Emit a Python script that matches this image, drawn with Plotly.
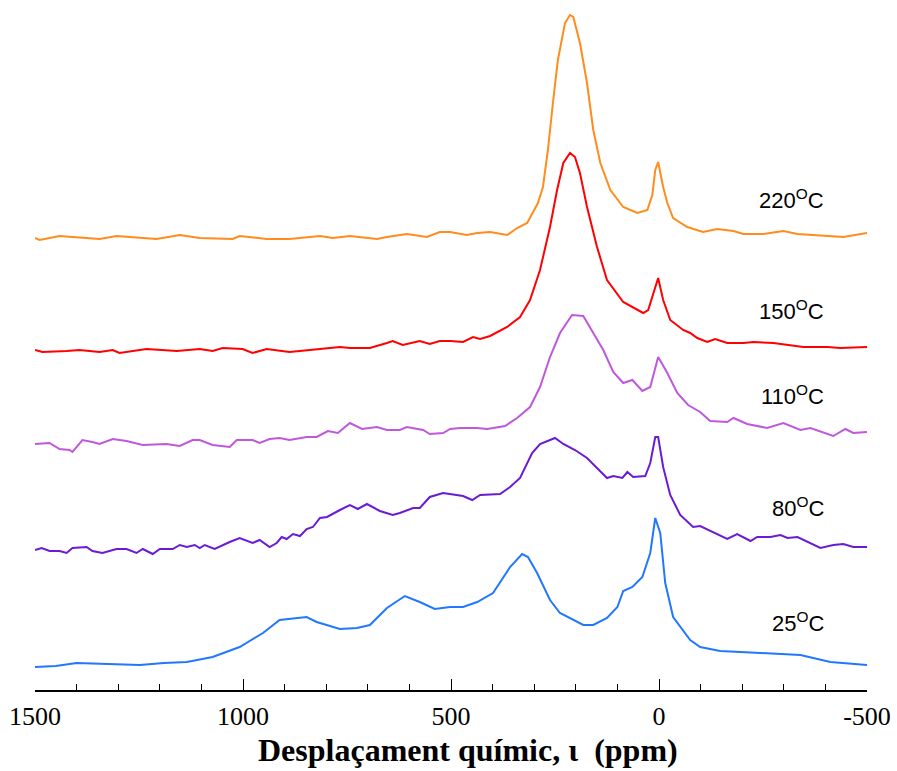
import plotly.graph_objects as go

# ---- data: chemical shift (ppm) and intensity above each spectrum's baseline ----
ppm_220 = [1500, 1489, 1441, 1345, 1304, 1208, 1152, 1104, 1025, 1008, 943, 888, 815, 784, 743, 678, 654, 606,
           558, 527, 502, 462, 437, 406, 365, 341, 317, 291, 279, 267, 255, 243, 226, 214, 206, 190, 173, 158,
           141, 117, 86, 52, 28, 16, 9, 2, -10, -20, -34, -68, -106, -140, -179, -203, -251, -299, -333, -395,
           -443, -500]
int_220 = [0, -2, 2, -1, 2, -1, 3, 0, -1, 2, -1, -1, 2, 0, 2, -1, 1, 4, 1, 6, 6, 3, 5, 6, 3, 10, 15, 35, 51, 88,
           135, 178, 215, 223, 221, 195, 155, 108, 75, 48, 31, 25, 28, 43, 68, 76, 51, 35, 20, 11, 6, 9, 7, 4,
           4, 7, 4, 2, 1, 5]

ppm_150 = [1500, 1482, 1424, 1393, 1345, 1313, 1297, 1232, 1159, 1104, 1073, 1049, 1001, 977, 943, 888, 815, 767,
           743, 695, 654, 640, 616, 575, 551, 527, 502, 471, 447, 430, 406, 365, 334, 310, 286, 262, 245, 230,
           214, 202, 190, 173, 149, 125, 86, 38, 26, 14, 2, -10, -27, -58, -75, -92, -116, -135, -164, -203,
           -227, -275, -309, -347, -405, -436, -500]
int_150 = [0, -2, -1, 0, -2, 0, -3, 1, -1, 1, -1, 2, 1, -3, 1, -2, 1, 3, 2, 2, 7, 9, 5, 9, 6, 9, 9, 8, 13, 11, 14,
           23, 33, 50, 80, 123, 160, 187, 197, 193, 177, 143, 103, 70, 48, 37, 40, 57, 72, 50, 30, 20, 17, 12, 8,
           11, 7, 7, 8, 7, 5, 3, 3, 2, 3]

ppm_110 = [1500, 1465, 1441, 1417, 1410, 1386, 1362, 1345, 1313, 1280, 1241, 1184, 1152, 1121, 1104, 1073, 1032,
           1015, 977, 960, 936, 912, 888, 847, 823, 796, 772, 743, 714, 678, 654, 623, 606, 567, 551, 519, 502,
           478, 437, 413, 370, 341, 310, 286, 262, 238, 209, 182, 158, 134, 110, 86, 64, 40, 21, 2, -20, -44,
           -70, -99, -123, -164, -179, -212, -260, -299, -340, -364, -419, -448, -467, -500]
int_110 = [0, 1, -5, -6, -8, 4, 2, 0, 5, 3, -1, 0, -2, 4, 4, -1, -3, 4, 4, 1, 5, 6, 4, 7, 7, 13, 11, 21, 15, 17,
           14, 14, 17, 14, 10, 11, 15, 16, 16, 15, 18, 26, 37, 57, 87, 111, 129, 128, 111, 94, 72, 61, 64, 53, 57,
           87, 71, 51, 39, 32, 23, 22, 26, 20, 16, 21, 14, 16, 8, 15, 11, 12]

ppm_80 = [1500, 1484, 1465, 1441, 1424, 1410, 1376, 1362, 1338, 1304, 1280, 1256, 1241, 1217, 1200, 1169, 1152,
          1135, 1116, 1104, 1092, 1068, 1032, 1008, 977, 960, 936, 919, 907, 895, 880, 863, 847, 832, 815, 798,
          767, 743, 724, 702, 671, 640, 623, 591, 575, 551, 519, 502, 471, 449, 430, 382, 358, 334, 305, 286,
          250, 230, 202, 173, 149, 125, 110, 88, 76, 62, 33, 21, 9, 2, -10, -27, -51, -82, -99, -131, -164,
          -188, -220, -236, -268, -292, -309, -333, -357, -388, -419, -443, -467, -500]
int_80 = [0, 2, -1, -1, -3, 2, 3, -1, -3, 1, 1, -3, 1, -4, 1, 1, 5, 3, 5, 2, 5, 1, 8, 12, 7, 10, 3, 7, 13, 11, 16,
          14, 21, 23, 32, 33, 40, 45, 41, 46, 39, 35, 37, 42, 42, 53, 57, 56, 54, 50, 55, 56, 63, 72, 97, 106,
          112, 106, 100, 92, 82, 72, 74, 72, 78, 73, 74, 87, 113, 113, 83, 55, 35, 23, 24, 18, 11, 16, 9, 13, 13,
          15, 12, 13, 8, 2, 5, 6, 3, 3]

ppm_25 = [1500, 1450, 1400, 1320, 1248, 1190, 1135, 1073, 1008, 952, 912, 847, 823, 767, 726, 695, 654, 611, 575,
          539, 502, 471, 437, 399, 358, 329, 315, 293, 262, 238, 182, 158, 125, 100, 86, 64, 40, 21, 9, -3, -15,
          -34, -75, -99, -147, -244, -340, -412, -500]
int_25 = [0, 1, 4, 3, 2, 4, 5, 10, 20, 34, 47, 50, 45, 38, 39, 42, 59, 71, 65, 58, 60, 60, 65, 74, 100, 113, 110,
          94, 67, 54, 42, 42, 49, 60, 76, 80, 90, 114, 149, 134, 84, 50, 27, 20, 16, 14, 12, 5, 2]

labels = ["25", "80", "110", "150", "220"]
offsets = [23, 140, 246, 340, 452]
tick_vals = [1500, 1000, 500, 0, -500]
tick_text = ["1500", "1000", "500", "0", "-500"]

series = [(ppm_25, int_25), (ppm_80, int_80), (ppm_110, int_110), (ppm_150, int_150), (ppm_220, int_220)]
colors = ["#2277FF", "#6A1BD4", "#BF58DC", "#FF0000", "#FF8C1C"]
label_y = [68, 183, 295, 380, 491]

fig = go.Figure()
for (xs, ys), off, col in zip(series, offsets, colors):
    fig.add_trace(go.Scatter(x=xs, y=[v + off for v in ys], mode="lines",
                             line=dict(color=col, width=2), hoverinfo="skip", showlegend=False))

for lab, ly in zip(labels, label_y):
    fig.add_annotation(x=0.951, xref="paper", y=ly, yref="y", xanchor="right", yanchor="middle",
                       text=f"{lab}<sup>O</sup>C", showarrow=False,
                       font=dict(family="Liberation Sans, Arial, sans-serif", size=22, color="black"))

fig.add_annotation(x=0.521, xref="paper", y=-0.116, yref="paper", xanchor="center", yanchor="bottom",
                   text="<b>Desplaçament químic, ι\u00a0\u00a0(ppm)</b>", showarrow=False,
                   font=dict(family="Liberation Serif, Times New Roman, serif", size=32, color="black"))

fig.update_layout(
    width=897, height=771,
    margin=dict(l=35, r=30, t=0, b=81),
    paper_bgcolor="white", plot_bgcolor="white",
    xaxis=dict(range=[1500, -500], tickvals=tick_vals, ticktext=tick_text,
               ticks="inside", ticklen=11, tickwidth=1.2, tickcolor="black",
               showline=True, linecolor="black", linewidth=1.5, showgrid=False, zeroline=False,
               ticklabelstandoff=2,
               tickfont=dict(family="Liberation Serif, Times New Roman, serif", size=26, color="black"),
               minor=dict(dtick=100, tick0=0, ticks="inside", ticklen=6, tickcolor="black", tickwidth=1.2,
                          showgrid=False)),
    yaxis=dict(range=[0, 690], visible=False, showgrid=False, zeroline=False),
)

fig.write_html("out.html")
